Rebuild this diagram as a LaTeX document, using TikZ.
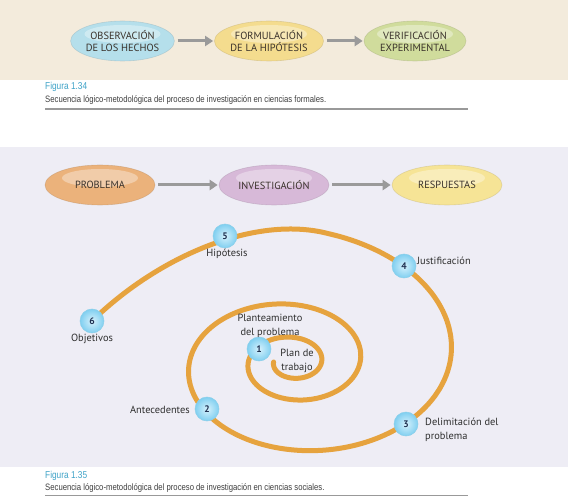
\documentclass[tikz,border=0pt]{standalone}
\usepackage{fontspec}
\setmainfont{PT Sans}
\newfontfamily\capfont[FakeStretch=0.83]{Liberation Sans}
\usetikzlibrary{shapes.geometric,arrows.meta}
\definecolor{beigebg}{HTML}{F3EBDC}
\definecolor{lavbg}{HTML}{EEEDF5}
\definecolor{obsc}{HTML}{B5DFEB}
\definecolor{formc}{HTML}{F4DC8E}
\definecolor{verc}{HTML}{D0DC9C}
\definecolor{probc}{HTML}{EBB27B}
\definecolor{invc}{HTML}{D7B9D8}
\definecolor{respc}{HTML}{F6E496}
\definecolor{ovaltext}{HTML}{3A322B}
\definecolor{labtext}{HTML}{2E2E2E}
\definecolor{spiralc}{HTML}{E6A33E}
\definecolor{figblue}{HTML}{3FA3C8}
\definecolor{captext}{HTML}{3F3F3F}
\definecolor{rulec}{HTML}{999999}
\definecolor{arrowc}{HTML}{9A9A9A}
\definecolor{balledge}{HTML}{8ACFEA}
\definecolor{ballin}{HTML}{D6F1FC}
\definecolor{ballout}{HTML}{80CFF0}
\definecolor{numc}{HTML}{1F3050}
\tikzset{
  oval/.style={ellipse, fill=#1, draw=#1!80!black, draw opacity=0.45, line width=0.6pt,
    inner sep=0pt, align=center, text=ovaltext,
    font=\fontsize{10.4}{12}\selectfont,
    path picture={\fill[white,opacity=0.35] ([yshift=7pt]path picture bounding box.center)
      ellipse [x radius=38pt, y radius=9pt];}},
  smalloval/.style={oval=#1, minimum width=102pt, minimum height=40pt},
  bigoval/.style={oval=#1, minimum width=110pt, minimum height=40pt},
  garrow/.style={draw=arrowc, line width=3pt, -{Triangle[length=8pt,width=10pt]}, shorten <=3pt, shorten >=1pt},
  numball/.style={circle, minimum size=24pt, inner sep=0pt, inner color=ballin, outer color=ballout,
    draw=balledge, line width=0.5pt, text=numc, font=\fontsize{9.5}{9.5}\selectfont\bfseries},
  lab/.style={inner sep=0pt, text=labtext, font=\fontsize{10.4}{13.5}\selectfont},
  spiral/.style={draw=spiralc, line width=5pt, line cap=round},
  figlab/.style={anchor=west, inner sep=0pt, text=figblue, font=\capfont\fontsize{10}{12}\selectfont},
  captxt/.style={anchor=west, inner sep=0pt, text=captext, font=\capfont\fontsize{9.3}{11}\selectfont},
  rule/.style={draw=rulec, line width=1.2pt}
}
\begin{document}
\begin{tikzpicture}[x=1pt,y=-1pt]
\useasboundingbox (0,0) rectangle (568,497);
\fill[white] (0,0) rectangle (568,497);
% bands
\fill[beigebg] (0,0) rectangle (568,80);
\fill[lavbg] (0,147) rectangle (568,467);

% top row
\node[smalloval=obsc] (obs) at (122.5,41) {OBSERVACIÓN\\DE LOS HECHOS};
\node[smalloval=formc] (form) at (269,41) {FORMULACIÓN\\DE LA HIPÓTESIS};
\node[smalloval=verc] (ver) at (415,41) {VERIFICACIÓN\\EXPERIMENTAL};
\draw[garrow] (obs) -- (form);
\draw[garrow] (form) -- (ver);

\node[figlab] (fig1) at (45,87) {Figura 1.34};
\node[captxt] (cap1) at (45,100) {Secuencia lógico-metodológica del proceso de investigación en ciencias formales.};
\draw[rule] (45,109) -- (468,109);

% second row
\node[bigoval=probc] (prob) at (100,185) {PROBLEMA};
\node[bigoval=invc] (inv) at (274,185) {INVESTIGACIÓN};
\node[bigoval=respc] (resp) at (447,185) {RESPUESTAS};
\draw[garrow] (prob) -- (inv);
\draw[garrow] (inv) -- (resp);

% spiral
\draw[spiral] plot[domain=-180:800, samples=220, smooth]
  ({292.6 + 29*exp(0.0023444*\x)*cos(\x)}, {362 - 20*exp(0.0023444*\x)*sin(\x)})
  .. controls (255,216) and (160,255) .. (92,321);

% numbered balls
\node[numball] (n1) at (259,349) {1};
\node[numball] (n2) at (207,409) {2};
\node[numball] (n3) at (406,424) {3};
\node[numball] (n4) at (404,266) {4};
\node[numball] (n5) at (225,236) {5};
\node[numball] (n6) at (92,321) {6};

% labels
\node[lab, align=center] (plan) at (297,361) {Plan de\\trabajo};
\node[lab, align=center] (plant) at (270,326) {Planteamiento\\del problema};
\node[lab] (hip) at (227,253.5) {Hipótesis};
\node[lab, anchor=west] (just) at (417,261) {Justificación};
\node[lab] (obj) at (92,339) {Objetivos};
\node[lab, anchor=east] (ante) at (190,410) {Antecedentes};
\node[lab, anchor=west, align=left] (delim) at (425,430) {Delimitación del\\problema};

\node[figlab] (fig2) at (45,476) {Figura 1.35};
\node[captxt] (cap2) at (45,488) {Secuencia lógico-metodológica del proceso de investigación en ciencias sociales.};
\draw[rule] (45,495.5) -- (468,495.5);
\end{tikzpicture}
\end{document}
